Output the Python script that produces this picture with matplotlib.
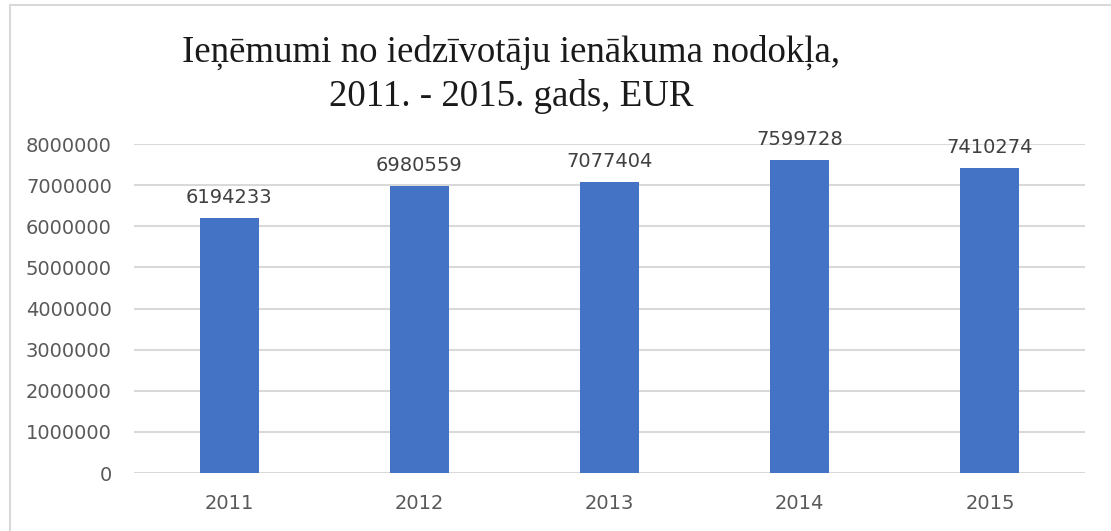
import matplotlib.pyplot as plt
from matplotlib.patches import Rectangle

# data
years = ["2011", "2012", "2013", "2014", "2015"]
income = [6194233, 6980559, 7077404, 7599728, 7410274]
yticks = [0, 1000000, 2000000, 3000000, 4000000, 5000000, 6000000, 7000000, 8000000]

fig = plt.figure(figsize=(11.11, 5.31), dpi=100)
ax = fig.add_axes([0.1206, 0.1092, 0.8560, 0.6196])

x = range(len(years))
ax.bar(x, income, width=0.31, color="#4472C4", zorder=3)

# value labels above bars
for i, v in zip(x, income):
    ax.annotate(str(v), (i, v), xytext=(0, 8), textcoords="offset points",
                ha="center", va="bottom", fontsize=14, color="#404040")

ax.set_xlim(-0.5, len(years) - 0.5)
ax.set_ylim(0, 8000000)
ax.set_yticks(yticks)
ax.set_yticklabels([str(t) for t in yticks])
ax.set_xticks(list(x))
ax.set_xticklabels(years)
ax.tick_params(axis="both", length=0, labelsize=14, labelcolor="#595959")
ax.tick_params(axis="y", pad=16)
ax.tick_params(axis="x", pad=15)
ax.grid(axis="y", color="#D9D9D9", linewidth=1.5, zorder=0)
for s in ax.spines.values():
    s.set_visible(False)

fig.text(0.460, 0.860, "Ieņēmumi no iedzīvotāju ienākuma nodokļa,\n2011. - 2015. gads, EUR",
         ha="center", va="center", fontsize=26.6, family="Liberation Serif",
         color="#1a1a1a", multialignment="center", linespacing=1.3)

# chart border (left and top visible)
fig.patches.append(Rectangle((10 / 1111, -0.02), 1.1, 1 - 5 / 531 + 0.02,
                             transform=fig.transFigure, fill=False,
                             edgecolor="#D9D9D9", linewidth=1.5))

fig.savefig("out.png", dpi=100)
